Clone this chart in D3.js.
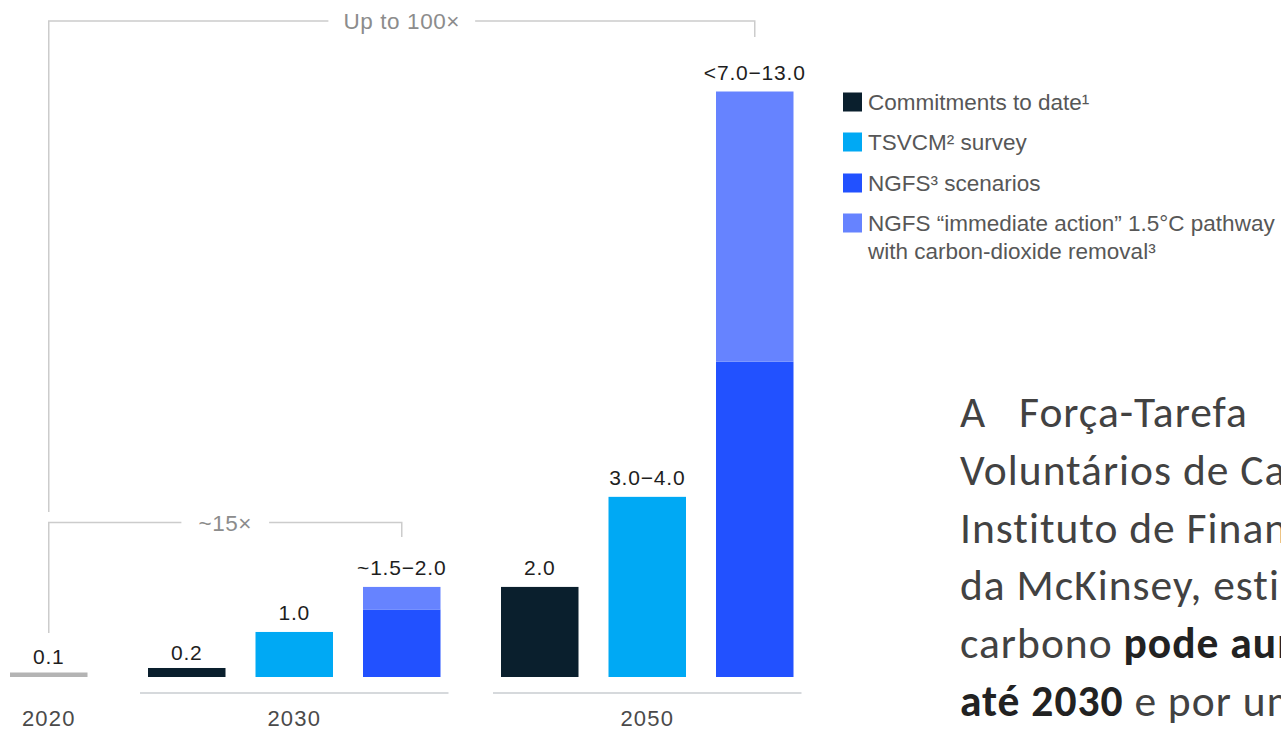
<!DOCTYPE html>
<html>
<head>
<meta charset="utf-8">
<script src="https://cdn.jsdelivr.net/npm/d3@7"></script>
<style>
  html, body { margin: 0; padding: 0; background: #ffffff; overflow: hidden; }
  svg { display: block; }
</style>
</head>
<body>
<svg id="chart" width="1281" height="731"></svg>
<script>
// ---------- data ----------
const groups = ["2020", "2030", "2050"];
const barIds = ["2020-base", "2030-commit", "2030-tsvcm", "2030-ngfs", "2050-commit", "2050-tsvcm", "2050-ngfs"];
const barGroup = ["2020", "2030", "2030", "2030", "2050", "2050", "2050"];
const barSeries = ["base", "commit", "tsvcm", "ngfs", "commit", "tsvcm", "ngfs"];
const barMain = [0.1, 0.2, 1.0, 1.5, 2.0, 4.0, 7.0];      // solid segment
const barExtra = [0, 0, 0, 0.5, 0, 0, 6.0];               // "immediate action" extension on top
const barLabels = ["0.1", "0.2", "1.0", "~1.5\u22122.0", "2.0", "3.0\u22124.0", "<7.0\u221213.0"];

const legendKeys = ["commit", "tsvcm", "ngfs", "ngfsImmediate"];
const legendLabels = [
  ["Commitments to date\u00B9"],
  ["TSVCM\u00B2 survey"],
  ["NGFS\u00B3 scenarios"],
  ["NGFS \u201Cimmediate action\u201D 1.5\u00B0C pathway", "with carbon-dioxide removal\u00B3"]
];

const brackets = [
  { from: "2020-base", to: "2050-ngfs", label: "Up to 100\u00D7" },
  { from: "2020-base", to: "2030-ngfs", label: "~15\u00D7" }
];

const noteLines = [
  [["A Força-Tarefa", false], ["   para", false]],
  [["Voluntários de Carbono (TSVCM), do", false]],
  [["Instituto de Finanças Internacionais, com apoio", false]],
  [["da McKinsey, estima que a demanda por créditos de", false]],
  [["carbono ", false], ["pode aumentar por um fator de 15", true]],
  [["até 2030", true], [" e por um fator de até 100 até 2050.", false]]
];

// ---------- styles ----------
const colors = {
  base: "#b4b4b4",
  commit: "#0a1f2d",
  tsvcm: "#00a9f4",
  ngfs: "#2251ff",
  ngfsImmediate: "#6683ff"
};
const chartFont = "'Liberation Sans', Arial, sans-serif";

const svg = d3.select("#chart");

// ---------- scales ----------
const groupGap = 30.5;
const x = d3.scaleBand()
  .domain(barIds)
  .range([10, 10 + 7 * 107.5 - 30])
  .paddingInner(30 / 107.5)
  .paddingOuter(0);
const gIndex = id => groups.indexOf(barGroup[barIds.indexOf(id)]);
const xLeft = id => x(id) + gIndex(id) * groupGap;
const xCenter = id => xLeft(id) + x.bandwidth() / 2;

const y = d3.scaleLinear().domain([0, 13]).range([677, 91.5]);

const bars = barIds.map((id, i) => ({
  id, group: barGroup[i], series: barSeries[i],
  main: barMain[i], extra: barExtra[i], label: barLabels[i]
}));

// ---------- bars ----------
const gBars = svg.append("g");
gBars.selectAll("rect.main")
  .data(bars)
  .join("rect")
  .attr("class", "main")
  .attr("x", d => xLeft(d.id))
  .attr("width", x.bandwidth())
  .attr("y", d => y(d.main))
  .attr("height", d => y(0) - y(d.main))
  .attr("fill", d => colors[d.series]);

gBars.selectAll("rect.extra")
  .data(bars.filter(d => d.extra > 0))
  .join("rect")
  .attr("class", "extra")
  .attr("x", d => xLeft(d.id))
  .attr("width", x.bandwidth())
  .attr("y", d => y(d.main + d.extra))
  .attr("height", d => y(d.main) - y(d.main + d.extra))
  .attr("fill", colors.ngfsImmediate);

// value labels
gBars.selectAll("text.val")
  .data(bars)
  .join("text")
  .attr("class", "val")
  .attr("x", d => xCenter(d.id))
  .attr("y", d => y(d.main + d.extra) - ((d.main + d.extra) < 0.5 ? 8 : 12))
  .attr("text-anchor", "middle")
  .attr("font-family", chartFont)
  .attr("font-size", 21)
  .attr("letter-spacing", 0.8)
  .attr("fill", "#1e1e1e")
  .text(d => d.label);

// ---------- group baselines & year labels ----------
const groupInfo = groups.map(g => {
  const ids = barIds.filter((id, i) => barGroup[i] === g);
  const x0 = xLeft(ids[0]);
  const x1 = xLeft(ids[ids.length - 1]) + x.bandwidth();
  return { g, ids, x0, x1, cx: (x0 + x1) / 2 };
});

svg.append("g").selectAll("line")
  .data(groupInfo.filter(d => d.ids.length > 1))
  .join("line")
  .attr("x1", d => d.x0 - 8)
  .attr("x2", d => d.x1 + 8)
  .attr("y1", 693).attr("y2", 693)
  .attr("stroke", "#c9cdd1")
  .attr("stroke-width", 1.5);

svg.append("g").selectAll("text")
  .data(groupInfo)
  .join("text")
  .attr("x", d => d.cx)
  .attr("y", 726)
  .attr("text-anchor", "middle")
  .attr("font-family", chartFont)
  .attr("font-size", 22)
  .attr("letter-spacing", 1.2)
  .attr("fill", "#4a4a4a")
  .text(d => d.g);

// ---------- brackets ----------
const bracketGeom = [
  { yLine: 21, leftEnd: 512, rightEnd: 37, pad: 15 },
  { yLine: 522.5, leftEnd: 633, rightEnd: 537, pad: 17 }
];
const gBr = svg.append("g");
brackets.forEach((b, i) => {
  const geo = bracketGeom[i];
  const xa = xCenter(b.from), xb = xCenter(b.to);
  const cx = (xa + xb) / 2;
  const t = gBr.append("text")
    .attr("x", cx)
    .attr("y", geo.yLine + 8)
    .attr("text-anchor", "middle")
    .attr("font-family", chartFont)
    .attr("font-size", 22.5)
    .attr("letter-spacing", 0.6)
    .attr("fill", "#8c8c8c")
    .text(b.label);
  const w = t.node().getComputedTextLength();
  const p1 = d3.path();
  p1.moveTo(xa, geo.leftEnd); p1.lineTo(xa, geo.yLine); p1.lineTo(cx - w / 2 - geo.pad, geo.yLine);
  const p2 = d3.path();
  p2.moveTo(cx + w / 2 + geo.pad, geo.yLine); p2.lineTo(xb, geo.yLine); p2.lineTo(xb, geo.rightEnd);
  [p1, p2].forEach(p => {
    gBr.append("path").attr("d", p.toString())
      .attr("stroke", "#cccccc").attr("stroke-width", 1.5).attr("fill", "none");
  });
});

// ---------- legend ----------
const legendY = [102, 142, 183, 223];
const gLeg = svg.append("g");
legendKeys.forEach((k, i) => {
  gLeg.append("rect")
    .attr("x", 843).attr("y", legendY[i] - 9.5)
    .attr("width", 19).attr("height", 19)
    .attr("fill", colors[k]);
  legendLabels[i].forEach((line, j) => {
    gLeg.append("text")
      .attr("x", 868)
      .attr("y", legendY[i] + 8 + j * 28)
      .attr("font-family", chartFont)
      .attr("font-size", 22.5)
      .attr("fill", "#575757")
      .text(line);
  });
});

// ---------- side note (clipped by page edge) ----------
const noteWordSpacing = [22, 0, 0, 0, 0, 0];
const gNote = svg.append("g");
noteLines.forEach((segs, i) => {
  const t = gNote.append("text")
    .attr("x", 960)
    .attr("y", 427 + i * 57.8)
    .attr("font-family", "Carlito, Calibri, Lato, sans-serif")
    .attr("font-size", 43.5)
    .attr("letter-spacing", 1)
    .attr("word-spacing", noteWordSpacing[i])
    .attr("fill", "#424242")
    .style("font-variant-ligatures", "none")
    .style("white-space", "pre");
  segs.forEach(([txt, bold]) => {
    t.append("tspan")
      .attr("font-weight", bold ? 700 : 400)
      .attr("fill", bold ? "#222222" : "#424242")
      .text(txt);
  });
});
</script>
</body>
</html>
